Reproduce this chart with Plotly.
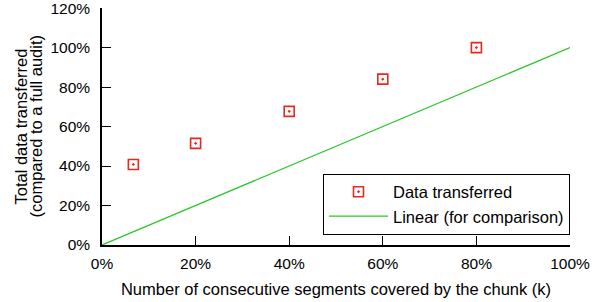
import plotly.graph_objects as go

k_pct = [6.7, 20, 40, 60, 80]
transferred_pct = [40.8, 51.5, 67.7, 84.0, 100.0]
linear_x = [0, 100]
linear_y = [0, 100]
y_title_lines = ["Total data transferred", "(compared to a full audit)"]

FONT = "Liberation Sans, Arial, sans-serif"
RED = "rgb(232,40,28)"
GREEN = "rgb(40,200,40)"

fig = go.Figure()
fig.add_trace(go.Scatter(
    x=k_pct, y=transferred_pct, mode="markers", name="Data transferred",
    marker=dict(symbol="square-open-dot", size=10, color=RED,
                line=dict(color=RED, width=1.6)),
))
fig.add_trace(go.Scatter(
    x=linear_x, y=linear_y, mode="lines", name="Linear (for comparison)",
    line=dict(color=GREEN, width=1.3),
))

axis_common = dict(
    showline=True, linecolor="black", linewidth=1.5,
    ticks="inside", ticklen=9, tickcolor="black", tickwidth=1,
    showgrid=False, zeroline=False, ticksuffix="%",
    tickmode="linear", tick0=0, dtick=20,
    ticklabeloverflow="allow",
    tickfont=dict(family=FONT, size=15.5, color="black"),
)

# y-axis title as two rotated text lines (tight line spacing like the reference)
for line_text, shift in zip(y_title_lines, [-82, -67]):
    fig.add_annotation(
        text=line_text, xref="paper", yref="paper", x=0, y=0.5,
        xanchor="center", yanchor="middle", xshift=shift, textangle=-90,
        showarrow=False, font=dict(family=FONT, size=16.5, color="black"),
    )

fig.update_layout(
    width=600, height=302,
    margin=dict(l=102, r=30, t=8, b=57, autoexpand=False),
    paper_bgcolor="white", plot_bgcolor="white",
    font=dict(family=FONT, size=16, color="black"),
    showlegend=True,
    legend=dict(
        x=1, xanchor="right", y=(245.5 - 174) / 237, yanchor="top",
        bordercolor="black", borderwidth=1, bgcolor="white",
        font=dict(family=FONT, size=16.5, color="black"),
        itemwidth=59, tracegroupgap=0,
    ),
    xaxis=dict(
        range=[0, 100], **axis_common, ticklabelstandoff=4,
        title=dict(text="Number of consecutive segments covered by the chunk (k)",
                   font=dict(family=FONT, size=16.5), standoff=12),
    ),
    yaxis=dict(
        range=[0, 120.05], **axis_common, ticklabelstandoff=7,
    ),
)

fig.write_html("out.html", config={"displayModeBar": False},
               post_script="document.body.style.margin='0';")
